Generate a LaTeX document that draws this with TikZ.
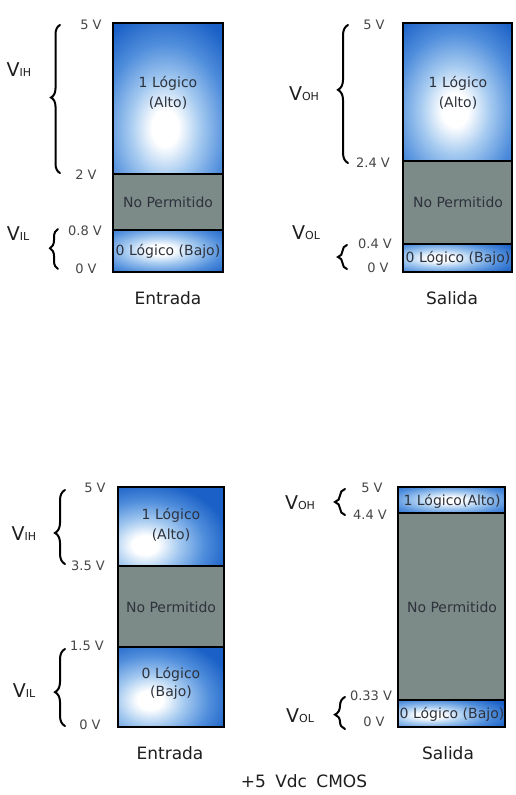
\documentclass[tikz,border=0pt]{standalone}
\usepackage{fontspec}
\setmainfont{DejaVu Sans}
\usetikzlibrary{decorations.pathreplacing}
\definecolor{glowA}{RGB}{165,202,240}
\definecolor{glowB}{RGB}{80,142,220}
\definecolor{glowC}{RGB}{26,96,198}
\definecolor{grayfill}{RGB}{124,138,136}
\definecolor{txtc}{RGB}{45,50,60}
\definecolor{labc}{RGB}{70,70,70}
\definecolor{namec}{RGB}{30,30,30}
\pgfdeclareradialshading{glow}{\pgfpoint{0bp}{0bp}}{color(0bp)=(white); color(3bp)=(white); color(8bp)=(glowA); color(14bp)=(glowB); color(20bp)=(glowC); color(50bp)=(glowC)}
\newcommand{\glowrect}[6]{%
  \begin{scope}
  \clip (#1,#2) rectangle (#3,#4);
  \shade[shading=glow] ({#5-(#3-#1)},{#6-(#4-#2)}) rectangle ({#5+(#3-#1)},{#6+(#4-#2)});
  \end{scope}}
\newcommand{\VsubName}[1]{{\fontsize{19}{21}\selectfont V}{\fontsize{11}{13}\selectfont #1}}
\begin{document}
\begin{tikzpicture}[x=1pt,y=-1pt,
  boxtxt/.style={font=\fontsize{14}{16}\selectfont, text=txtc, inner sep=0pt},
  vlab/.style={font=\fontsize{13}{15}\selectfont, text=labc, inner sep=0pt},
  vname/.style={text=namec, inner sep=0pt},
  captxt/.style={font=\fontsize{17}{19}\selectfont, text=namec, inner sep=0pt},
  bracestyle/.style={decorate, line width=2pt, line cap=round, draw=black},
  frame/.style={draw=black, line width=1.5pt},
  divider/.style={draw=black, line width=1.5pt},
]
\useasboundingbox (0,0) rectangle (515,795);
\fill[white] (0,0) rectangle (515,795);

% ---------------- Top-left: Entrada ----------------
\glowrect{113}{23}{223}{174}{165}{128}
\fill[grayfill] (113,174) rectangle (223,230);
\glowrect{113}{230}{223}{272}{160}{250}
\draw[divider] (113,174) -- (223,174);
\draw[divider] (113,230) -- (223,230);
\draw[frame] (113,23) rectangle (223,272);
\node[boxtxt] (tlh1) at (168,83) {1 Lógico};
\node[boxtxt] (tlh2) at (168,103) {(Alto)};
\node[boxtxt] (tlm) at (168,202) {No Permitido};
\node[boxtxt] (tll) at (168,251) {0 Lógico (Bajo)};
\node[vlab] (tl5) at (91,25) {5 V};
\node[vlab] (tl2) at (86,175) {2 V};
\node[vlab] (tl08) at (85,231) {0.8 V};
\node[vlab] (tl0) at (86,269) {0 V};
\node[vname] (tlvih) at (19,70) {\VsubName{IH}};
\node[vname] (tlvil) at (18,234) {\VsubName{IL}};
\draw[bracestyle, decoration={brace, amplitude=9pt, aspect=0.51}] (60,173) -- (60,25);
\draw[bracestyle, decoration={brace, amplitude=8pt, aspect=0.52}] (58,269) -- (58,229);
\node[captxt] (tlcap) at (168,298) {Entrada};

% ---------------- Top-right: Salida ----------------
\glowrect{403}{23}{512}{161}{455}{110}
\fill[grayfill] (403,161) rectangle (512,244);
\glowrect{403}{244}{512}{272}{440}{258}
\draw[divider] (403,161) -- (512,161);
\draw[divider] (403,244) -- (512,244);
\draw[frame] (403,23) rectangle (512,272);
\node[boxtxt] (trh1) at (458,83) {1 Lógico};
\node[boxtxt] (trh2) at (458,103) {(Alto)};
\node[boxtxt] (trm) at (458,202) {No Permitido};
\node[boxtxt] (trl) at (458,258) {0 Lógico (Bajo)};
\node[vlab] (tr5) at (374,25) {5 V};
\node[vlab] (tr24) at (373,163) {2.4 V};
\node[vlab] (tr04) at (375,244) {0.4 V};
\node[vlab] (tr0) at (378,268) {0 V};
\node[vname] (trvoh) at (304,94) {\VsubName{OH}};
\node[vname] (trvol) at (306,233) {\VsubName{OL}};
\draw[bracestyle, decoration={brace, amplitude=10pt, aspect=0.53}] (348,163) -- (348,25);
\draw[bracestyle, decoration={brace, amplitude=9pt, aspect=0.5}] (347,269) -- (347,245);
\node[captxt] (trcap) at (452,298) {Salida};

% ---------------- Bottom-left: Entrada (CMOS) ----------------
\glowrect{118}{487}{224}{566}{145}{545}
\fill[grayfill] (118,566) rectangle (224,647);
\glowrect{118}{647}{224}{727}{150}{700}
\draw[divider] (118,566) -- (224,566);
\draw[divider] (118,647) -- (224,647);
\draw[frame] (118,487) rectangle (224,727);
\node[boxtxt] (blh1) at (171,515) {1 Lógico};
\node[boxtxt] (blh2) at (171,535) {(Alto)};
\node[boxtxt] (blm) at (171,607) {No Permitido};
\node[boxtxt] (bll1) at (171,674) {0 Lógico};
\node[boxtxt] (bll2) at (171,693) {(Bajo)};
\node[vlab] (bl5) at (95,488) {5 V};
\node[vlab] (bl35) at (88,566) {3.5 V};
\node[vlab] (bl15) at (87,646) {1.5 V};
\node[vlab] (bl0) at (90,725) {0 V};
\node[vname] (blvih) at (24,534) {\VsubName{IH}};
\node[vname] (blvil) at (24,691) {\VsubName{IL}};
\draw[bracestyle, decoration={brace, amplitude=10pt, aspect=0.42}] (65,564) -- (65,490);
\draw[bracestyle, decoration={brace, amplitude=10pt, aspect=0.44}] (65,726) -- (65,649);
\node[captxt] (blcap) at (170,753) {Entrada};

% ---------------- Bottom-right: Salida (CMOS) ----------------
\glowrect{398}{487}{505}{513}{450}{500}
\fill[grayfill] (398,513) rectangle (505,700);
\glowrect{398}{700}{505}{727}{430}{715}
\draw[divider] (398,513) -- (505,513);
\draw[divider] (398,700) -- (505,700);
\draw[frame] (398,487) rectangle (505,727);
\node[boxtxt] (brh) at (452,501) {1 Lógico(Alto)};
\node[boxtxt] (brm) at (452,607) {No Permitido};
\node[boxtxt] (brl) at (452,714) {0 Lógico (Bajo)};
\node[vlab] (br5) at (372,488) {5 V};
\node[vlab] (br44) at (370,515) {4.4 V};
\node[vlab] (br033) at (371,696) {0.33 V};
\node[vlab] (br0) at (374,722) {0 V};
\node[vname] (brvoh) at (300,503) {\VsubName{OH}};
\node[vname] (brvol) at (300,716) {\VsubName{OL}};
\draw[bracestyle, decoration={brace, amplitude=10pt, aspect=0.5}] (345,515) -- (345,489);
\draw[bracestyle, decoration={brace, amplitude=10pt, aspect=0.45}] (345,729) -- (345,697);
\node[captxt] (brcap) at (448,753) {Salida};

\node[captxt] (title) at (304,781) {+5\hspace{0.55em}Vdc\hspace{0.55em}CMOS};
\end{tikzpicture}
\end{document}
